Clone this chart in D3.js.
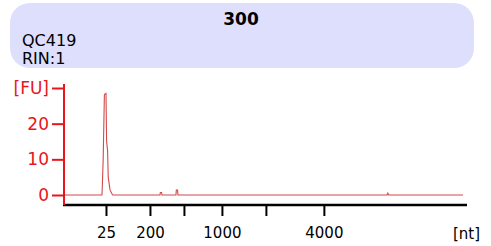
<!DOCTYPE html>
<html>
<head>
<meta charset="utf-8">
<script src="https://cdn.jsdelivr.net/npm/d3@7"></script>
<style>
  body { margin: 0; background: #fff; }
  text { font-family: "DejaVu Sans", Verdana, sans-serif; }
</style>
</head>
<body>
<div id="chart"></div>
<script>
var svgWidth = 491;
var svgHeight = 246;

// header texts
var sampleTitle = "300";
var sampleName = "QC419";
var rinText = "RIN:1";

// electropherogram trace (time in seconds, fluorescence in FU)
var traceTime = [20, 24.75, 24.8, 24.9, 25.05, 25.1, 25.25, 25.33, 25.45, 25.53, 25.75, 25.95, 26.1,
    32.0, 32.05, 32.2, 32.25, 34.0, 34.05, 34.2, 34.25, 60.4, 60.5, 60.6, 69.9];
var traceFU = [0, 0, 3, 10, 28, 28.3, 28.5, 15, 12.5, 5, 1.5, 0.5, 0,
    0, 0.7, 0.7, 0, 0, 1.4, 1.4, 0, 0, 0.5, 0, 0];

// ladder positions on the x axis
var ladderSizes = [25, 200, 500, 1000, 2000, 4000];
var ladderTimes = [25.25, 30.75, 35, 39.75, 45.25, 52.5];
var ladderLabeled = [25, 200, 1000, 4000];

// y ticks
var fuTicks = [0, 10, 20, 30];
var fuLabels = ["0", "10", "20", "[FU]"];

var svg = d3.select("#chart")
    .append("svg")
    .attr("width", svgWidth)
    .attr("height", svgHeight);

// header panel
svg.append("rect")
    .attr("x", 10)
    .attr("y", 3)
    .attr("width", 464)
    .attr("height", 65)
    .attr("rx", 20)
    .attr("ry", 20)
    .attr("fill", "#dedefd");

svg.append("text")
    .attr("x", 241)
    .attr("y", 25)
    .attr("text-anchor", "middle")
    .style("font-size", "17px")
    .style("font-weight", "bold")
    .text(sampleTitle);

svg.append("text")
    .attr("x", 22)
    .attr("y", 46)
    .style("font-size", "16px")
    .text(sampleName);

svg.append("text")
    .attr("x", 22)
    .attr("y", 64)
    .style("font-size", "16px")
    .text(rinText);

// scales
var xScale = d3.scaleLinear()
    .domain([20, 70.4])
    .range([64, 467]);

var yScale = d3.scaleLinear()
    .domain([0, 30])
    .range([195, 88]);

// trace
var line = d3.line()
    .x((d, i) => xScale(traceTime[i]))
    .y(d => yScale(d));

svg.append("path")
    .datum(traceFU)
    .attr("d", line)
    .attr("fill", "none")
    .attr("stroke", "#d24a4a")
    .attr("stroke-width", 1.1);

// x axis
var sizeByTime = new Map(ladderTimes.map((t, i) => [t, ladderSizes[i]]));
var bottomAxis = d3.axisBottom(xScale)
    .tickValues(ladderTimes)
    .tickSize(11)
    .tickPadding(11)
    .tickFormat(t => ladderLabeled.includes(sizeByTime.get(t)) ? sizeByTime.get(t) : "");

var xAxis = svg.append("g")
    .attr("transform", "translate(0, 205)")
    .call(bottomAxis);
xAxis.select(".domain")
    .attr("d", "M63,0H467")
    .attr("stroke", "#000")
    .attr("stroke-width", 2.5);
xAxis.selectAll(".tick line").attr("stroke", "#000").attr("stroke-width", 2);
xAxis.selectAll(".tick text")
    .attr("fill", "#000")
    .style("font-size", "15px")
    .style("font-family", "'DejaVu Sans', Verdana, sans-serif");

svg.append("text")
    .attr("x", 453)
    .attr("y", 239)
    .style("font-size", "15px")
    .text("[nt]");

// y axis
var leftAxis = d3.axisLeft(yScale)
    .tickValues(fuTicks)
    .tickSize(12)
    .tickPadding(3)
    .tickFormat((d, i) => fuLabels[i]);

var yAxis = svg.append("g")
    .attr("transform", "translate(64, 0)")
    .call(leftAxis);
yAxis.select(".domain")
    .attr("d", "M0,84V205")
    .attr("stroke", "#e8161b")
    .attr("stroke-width", 2);
yAxis.selectAll(".tick line").attr("stroke", "#e8161b").attr("stroke-width", 2);
yAxis.selectAll(".tick text")
    .attr("fill", "#e8161b")
    .style("font-size", "17px")
    .style("font-family", "'DejaVu Sans', Verdana, sans-serif");
</script>
</body>
</html>
